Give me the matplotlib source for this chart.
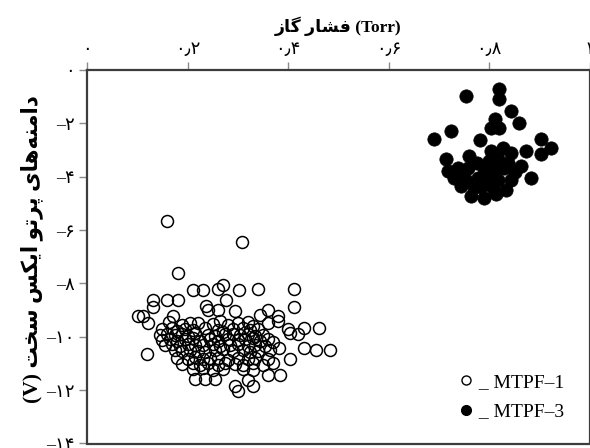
import matplotlib
matplotlib.use("Agg")
import matplotlib.pyplot as plt
from matplotlib.lines import Line2D

plt.rcParams["font.family"] = ["Liberation Serif", "DejaVu Sans"]

# ---------------- data ----------------
x_ticks = [0, 0.2, 0.4, 0.6, 0.8, 1.0]
x_tick_labels = ["۰", "۰٫۲", "۰٫۴", "۰٫۶", "۰٫۸", "۱"]
y_ticks = [0, -2, -4, -6, -8, -10, -12, -14]
y_tick_labels = ["۰", "–۲", "–۴", "–۶", "–۸", "–۱۰", "–۱۲", "–۱۴"]

x_title = "فشار گاز"
x_unit = "(Torr)"
y_title = "دامنه‌های پرتو ایکس سخت"
y_unit = "(V)"
series_names = ["MTPF–1", "MTPF–3"]

mtpf1_points = [
    (0.159, -5.66), (0.309, -6.44), (0.181, -7.62),
    (0.210, -8.25), (0.230, -8.25), (0.260, -8.22), (0.270, -8.06), (0.303, -8.25),
    (0.341, -8.22), (0.411, -8.22),
    (0.131, -8.62), (0.159, -8.62), (0.181, -8.62), (0.277, -8.62), (0.411, -8.87),
    (0.131, -8.87), (0.237, -8.84), (0.241, -8.99), (0.261, -8.99), (0.294, -9.05),
    (0.361, -8.99), (0.381, -9.22), (0.344, -9.20), (0.171, -9.22), (0.101, -9.22),
    (0.111, -9.22), (0.121, -9.49), (0.120, -10.63),
    (0.404, -9.86), (0.431, -9.68), (0.461, -9.68), (0.431, -10.42), (0.455, -10.49),
    (0.483, -10.49), (0.404, -10.83), (0.383, -10.42),
    (0.214, -11.60), (0.234, -11.60), (0.254, -11.60), (0.294, -11.85), (0.300, -12.04),
    (0.320, -11.62), (0.330, -11.85), (0.384, -11.42), (0.361, -11.42),
    (0.164, -9.45), (0.190, -9.55), (0.205, -9.50), (0.220, -9.48), (0.250, -9.52),
    (0.265, -9.40), (0.280, -9.55), (0.300, -9.50), (0.320, -9.45), (0.330, -9.58),
    (0.360, -9.50), (0.380, -9.42),
    (0.150, -9.72), (0.170, -9.68), (0.180, -9.80), (0.195, -9.70), (0.210, -9.75),
    (0.235, -9.66), (0.260, -9.74), (0.270, -9.82), (0.290, -9.70), (0.310, -9.68),
    (0.325, -9.76), (0.340, -9.72), (0.400, -9.70),
    (0.145, -9.92), (0.160, -9.88), (0.175, -9.95), (0.190, -9.90), (0.200, -9.98),
    (0.215, -9.86), (0.240, -9.92), (0.255, -9.96), (0.275, -9.90), (0.290, -9.88),
    (0.305, -9.94), (0.320, -9.90), (0.335, -9.98), (0.350, -9.92), (0.420, -9.90),
    (0.150, -10.12), (0.165, -10.08), (0.180, -10.15), (0.195, -10.10), (0.210, -10.05),
    (0.225, -10.14), (0.245, -10.10), (0.260, -10.16), (0.280, -10.08), (0.300, -10.12),
    (0.315, -10.10), (0.330, -10.06), (0.345, -10.14), (0.360, -10.10), (0.370, -10.18),
    (0.155, -10.30), (0.170, -10.26), (0.185, -10.34), (0.200, -10.28), (0.215, -10.32),
    (0.230, -10.30), (0.250, -10.26), (0.265, -10.35), (0.285, -10.30), (0.300, -10.28),
    (0.320, -10.33), (0.335, -10.30), (0.355, -10.36),
    (0.175, -10.50), (0.190, -10.55), (0.205, -10.48), (0.220, -10.52), (0.235, -10.56),
    (0.255, -10.50), (0.270, -10.46), (0.290, -10.54), (0.310, -10.50), (0.325, -10.58),
    (0.340, -10.52), (0.365, -10.50),
    (0.180, -10.78), (0.200, -10.82), (0.215, -10.76), (0.230, -10.84), (0.245, -10.80),
    (0.260, -10.78), (0.280, -10.86), (0.300, -10.80), (0.320, -10.82), (0.335, -10.78),
    (0.360, -10.84),
    (0.190, -11.02), (0.210, -10.98), (0.225, -11.05), (0.240, -11.00), (0.260, -11.04),
    (0.275, -10.98), (0.295, -11.02), (0.310, -11.06), (0.330, -11.00), (0.350, -11.04),
    (0.370, -11.00),
    (0.210, -11.22), (0.230, -11.18), (0.250, -11.25), (0.270, -11.20), (0.310, -11.22),
    (0.330, -11.26),
]

mtpf3_x = [0.690, 0.714, 0.724, 0.754, 0.820, 0.820, 0.844, 0.860, 0.812, 0.804,
           0.820, 0.782, 0.904, 0.924, 0.904, 0.874, 0.760, 0.804, 0.828, 0.844,
           0.818, 0.838, 0.864, 0.718, 0.738, 0.758, 0.790, 0.810, 0.830, 0.884,
           0.730, 0.754, 0.778, 0.798, 0.818, 0.844, 0.784, 0.808, 0.770, 0.764,
           0.790, 0.814, 0.852, 0.744, 0.834, 0.800, 0.776, 0.740]
mtpf3_y = [-2.57, -3.32, -2.28, -0.97, -0.71, -1.08, -1.53, -1.98, -1.83, -2.16,
           -2.16, -2.61, -2.57, -2.91, -3.13, -3.02, -3.21, -3.02, -2.91, -3.10,
           -3.32, -3.47, -3.58, -3.77, -3.69, -3.66, -3.69, -3.77, -3.69, -4.03,
           -4.03, -4.14, -4.03, -4.07, -4.14, -4.14, -4.40, -4.44, -4.40, -4.74,
           -4.78, -4.63, -3.84, -4.33, -4.48, -3.40, -3.47, -3.92]

# ---------------- simple Persian shaping (matplotlib has no RTL shaping) ----------------
FORMS = {  # isolated, final, initial, medial
    "ا": ("\uFE8D", "\uFE8E", None, None),
    "د": ("\uFEA9", "\uFEAA", None, None),
    "ر": ("\uFEAD", "\uFEAE", None, None),
    "ز": ("\uFEAF", "\uFEB0", None, None),
    "و": ("\uFEED", "\uFEEE", None, None),
    "م": ("\uFEE1", "\uFEE2", "\uFEE3", "\uFEE4"),
    "ن": ("\uFEE5", "\uFEE6", "\uFEE7", "\uFEE8"),
    "ه": ("\uFEE9", "\uFEEA", "\uFEEB", "\uFEEC"),
    "ف": ("\uFED1", "\uFED2", "\uFED3", "\uFED4"),
    "ش": ("\uFEB5", "\uFEB6", "\uFEB7", "\uFEB8"),
    "س": ("\uFEB1", "\uFEB2", "\uFEB3", "\uFEB4"),
    "خ": ("\uFEA5", "\uFEA6", "\uFEA7", "\uFEA8"),
    "ت": ("\uFE95", "\uFE96", "\uFE97", "\uFE98"),
    "ی": ("\uFBFC", "\uFBFD", "\uFBFE", "\uFBFF"),
    "پ": ("\uFB56", "\uFB57", "\uFB58", "\uFB59"),
    "گ": ("\uFB92", "\uFB93", "\uFB94", "\uFB95"),
    "ک": ("\uFB8E", "\uFB8F", "\uFB90", "\uFB91"),
}


def shape_rtl(s):
    out = []
    for i, c in enumerate(s):
        if c == "\u200c":
            continue
        if c not in FORMS:
            out.append(c)
            continue
        prev = s[i - 1] if i > 0 else ""
        nxt = s[i + 1] if i + 1 < len(s) else ""
        jp = prev in FORMS and FORMS[prev][2] is not None
        jn = FORMS[c][2] is not None and nxt in FORMS
        iso, fin, ini, med = FORMS[c]
        if jp and jn:
            out.append(med)
        elif jp:
            out.append(fin)
        elif jn:
            out.append(ini)
        else:
            out.append(iso)
    return "".join(reversed(out))


# ---------------- figure ----------------
fig = plt.figure(figsize=(5.9, 4.48), dpi=100)
ax = fig.add_axes([87 / 590, 1 - 443.5 / 448, (589.5 - 87) / 590, (443.5 - 70) / 448])

x1 = [p[0] for p in mtpf1_points]
y1 = [p[1] for p in mtpf1_points]
ax.plot(x1, y1, ls="none", marker="o", ms=8.6, mfc="none", mec="black", mew=1.1, clip_on=False)
ax.plot(mtpf3_x, mtpf3_y, ls="none", marker="o", ms=9.6, mfc="black", mec="black", mew=0.5, clip_on=False)

ax.set_xlim(0, 1)
ax.set_ylim(-14, 0)
ax.xaxis.tick_top()
ax.xaxis.set_label_position("top")
ax.set_xticks(x_ticks)
ax.set_xticklabels(x_tick_labels)
ax.set_yticks(y_ticks)
ax.set_yticklabels(y_tick_labels)
ax.tick_params(direction="out", length=6, width=1.0, color="#8a8a8a", labelsize=13, pad=3)

for sp in ax.spines.values():
    sp.set_color("#3c3c3c")
    sp.set_linewidth(1.6)

ax.set_xlabel(shape_rtl(x_title) + " " + x_unit, fontsize=12.5, fontweight="bold", labelpad=6)
ax.set_ylabel(y_unit + " " + shape_rtl(y_title), fontsize=15.5, fontweight="bold")
ax.yaxis.set_label_coords(-0.088, 0.52)

handles = [
    Line2D([], [], ls="none", marker="o", ms=6.5, mfc="none", mec="black", mew=1.0),
    Line2D([], [], ls="none", marker="o", ms=7.0, mfc="black", mec="black"),
]
labels = [" _ " + series_names[0], " _ " + series_names[1]]
ax.legend(handles, labels, loc="lower right", bbox_to_anchor=(0.985, 0.015), frameon=False,
          fontsize=14, handlelength=0.8, handletextpad=0.0, labelspacing=0.6)

fig.savefig("out.png", dpi=100)
